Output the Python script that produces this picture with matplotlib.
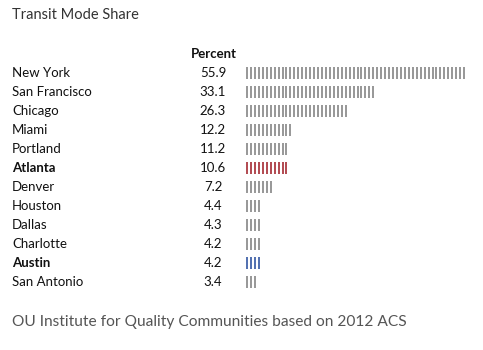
import numpy as np
import matplotlib
matplotlib.use('Agg')
import matplotlib.pyplot as plt
import matplotlib.transforms as mtransforms

plt.rcParams['font.family'] = ['Lato', 'DejaVu Sans']

cities = ['New York', 'San Francisco', 'Chicago', 'Miami', 'Portland', 'Atlanta',
		'Denver', 'Houston', 'Dallas', 'Charlotte', 'Austin', 'San Antonio']
share = [55.9, 33.1, 26.3, 12.2, 11.2, 10.6, 7.2, 4.4, 4.3, 4.2, 4.2, 3.4]
highlight = {'Atlanta': '#a8323a', 'Austin': '#3b5da6'}

fig = plt.figure(figsize=(4.83, 3.5), dpi=100)
ax = fig.add_axes([245 / 483, 1 - 291.5 / 350, 225 / 483, 228 / 350])
ax.set_xlim(-0.5, 56.5)
ax.set_ylim(len(cities) - 0.5, -0.5)
ax.axis('off')

lab = mtransforms.blended_transform_factory(fig.transFigure, ax.transData)

for i, (c, v) in enumerate(zip(cities, share)):
	n = int(round(v))
	col = highlight.get(c, '#8a8a8a')
	ax.vlines(np.arange(n), i - 0.29, i + 0.29, color=col, linewidth=1.25)
	bold = 'bold' if c in highlight else 'normal'
	ax.text(12 / 483, i, c, transform=lab, ha='left', va='center',
			fontsize=9.5, fontweight=bold, color='#111111')
	ax.text(213 / 483, i, '{0:.1f}'.format(v), transform=lab, ha='center', va='center',
			fontsize=9.5, color='#111111')

ax.text(214 / 483, -1, 'Percent', transform=lab, ha='center', va='center',
		fontsize=9.5, fontweight='bold', color='#111111')

fig.text(12 / 483, 1 - 15 / 350, 'Transit Mode Share', ha='left', va='center',
		fontsize=10.5, color='#333333')
fig.text(12 / 483, 1 - 322 / 350, 'OU Institute for Quality Communities based on 2012 ACS',
		ha='left', va='center', fontsize=11.2, color='#555555')

plt.savefig('out.png', dpi=100)
